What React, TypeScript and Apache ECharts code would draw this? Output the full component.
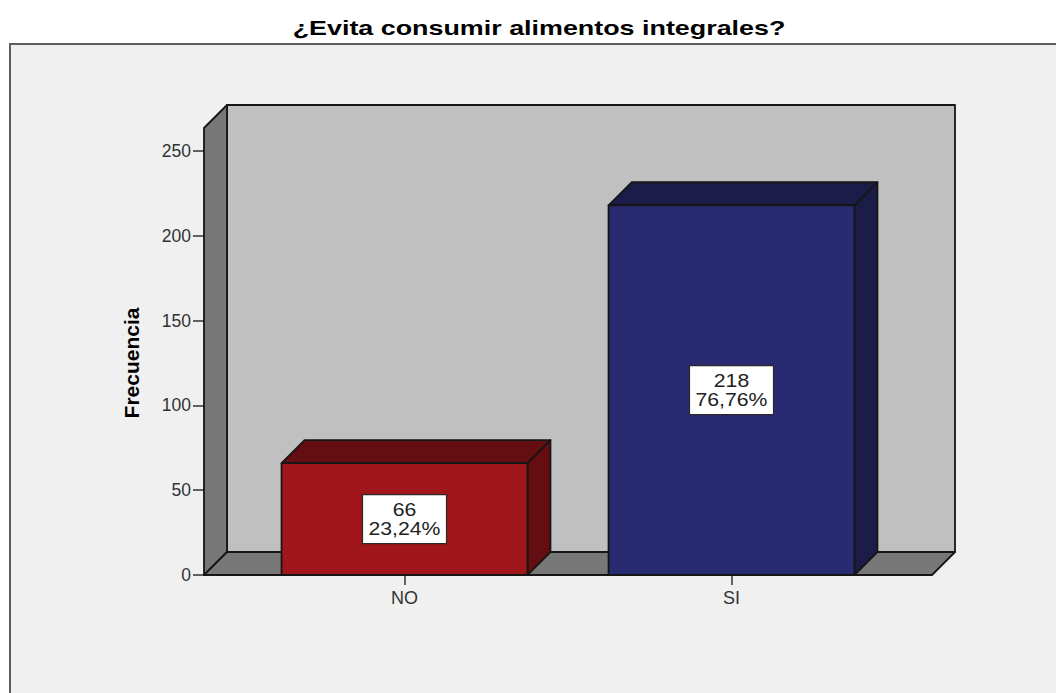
import React, { useEffect, useRef } from "react";
import * as echarts from "echarts";

const chartTitle = "¿Evita consumir alimentos integrales?";
const yAxisName = "Frecuencia";
const categories = ["NO", "SI"];
const frequencies = [66, 218];
const percentLabels = ["23,24%", "76,76%"];
const yMin = 0;
const yMax = 250;
const yInterval = 50;
const frontColors = ["#a0161a", "#282a72"];
const shadeColors = ["#650e11", "#1b1c48"];

const FONT = '"Liberation Sans", Arial, Helvetica, sans-serif';
const DEPTH = 23;
const SIDE_PAD = 37;
const EDGE = { stroke: "#161616", lineWidth: 1.8, lineJoin: "round" as const };

export default function App() {
  const ref = useRef<HTMLDivElement>(null);

  useEffect(() => {
    if (!ref.current) return;
    const chart = echarts.init(ref.current, null, { renderer: "svg" });

    const wallsRender = (params: any, api: any) => {
      const cs = params.coordSys;
      const d = DEPTH;
      const y0 = api.coord([0, 0])[1];
      const xL = cs.x - SIDE_PAD;
      const xR = cs.x + cs.width + SIDE_PAD;
      const yT = cs.y - d;
      return {
        type: "group",
        children: [
          {
            type: "polygon",
            shape: { points: [[xL + d, yT - d], [xR + d, yT - d], [xR + d, y0 - d], [xL + d, y0 - d]] },
            style: { fill: "#c0c0c0", ...EDGE },
          },
          {
            type: "polygon",
            shape: { points: [[xL, y0], [xL, yT], [xL + d, yT - d], [xL + d, y0 - d]] },
            style: { fill: "#787878", ...EDGE },
          },
          {
            type: "polygon",
            shape: { points: [[xL, y0], [xL + d, y0 - d], [xR + d, y0 - d], [xR, y0]] },
            style: { fill: "#787878", ...EDGE },
          },
        ],
      };
    };

    const barsRender = (params: any, api: any) => {
      const i = params.dataIndex;
      const cat = api.value(0);
      const val = api.value(1);
      const [cx, yv] = api.coord([cat, val]);
      const y0 = api.coord([cat, 0])[1];
      const band = api.size([1, 0])[0];
      const w = band * 0.752;
      const xl = cx - w / 2;
      const xr = cx + w / 2;
      const d = DEPTH;
      const midY = (yv + y0) / 2;
      const boxW = 84;
      const boxH = 49;
      return {
        type: "group",
        children: [
          {
            type: "polygon",
            shape: { points: [[xr, yv], [xr + d, yv - d], [xr + d, y0 - d], [xr, y0]] },
            style: { fill: shadeColors[i], ...EDGE },
          },
          {
            type: "polygon",
            shape: { points: [[xl, yv], [xl + d, yv - d], [xr + d, yv - d], [xr, yv]] },
            style: { fill: shadeColors[i], ...EDGE },
          },
          {
            type: "rect",
            shape: { x: xl, y: yv, width: w, height: y0 - yv },
            style: { fill: frontColors[i], ...EDGE },
          },
          {
            type: "rect",
            shape: { x: cx - boxW / 2, y: midY - boxH / 2, width: boxW, height: boxH },
            style: { fill: "#ffffff", stroke: "#2a2a2a", lineWidth: 1.2 },
          },
          {
            type: "text",
            x: cx,
            y: midY,
            scaleX: 1.18,
            style: {
              text: `${frequencies[i]}\n${percentLabels[i]}`,
              font: `18px ${FONT}`,
              fill: "#222222",
              align: "center",
              verticalAlign: "middle",
              lineHeight: 19,
            },
          },
        ],
      };
    };

    chart.setOption({
      animation: false,
      backgroundColor: "#ffffff",
      graphic: [
        {
          type: "rect",
          z: -10,
          silent: true,
          shape: { x: 10, y: 44, width: 1100, height: 700 },
          style: { fill: "#f0f0f0", stroke: "#5e5e5e", lineWidth: 2 },
        },
        {
          type: "text",
          x: 539,
          y: 28,
          scaleX: 1.28,
          style: {
            text: chartTitle,
            font: `bold 21px ${FONT}`,
            fill: "#000000",
            align: "center",
            verticalAlign: "middle",
          },
        },
      ],
      grid: { left: 241, right: 161, top: 151, bottom: 118 },
      xAxis: {
        type: "category",
        data: categories,
        axisLine: { show: false },
        axisTick: { show: true, alignWithLabel: true, length: 10, lineStyle: { color: "#333333", width: 1.5 } },
        axisLabel: { margin: 14, fontSize: 18, fontFamily: FONT, color: "#333333" },
        splitLine: { show: false },
      },
      yAxis: {
        type: "value",
        min: yMin,
        max: yMax,
        interval: yInterval,
        offset: SIDE_PAD,
        name: yAxisName,
        nameLocation: "middle",
        nameRotate: 90,
        nameGap: 62,
        nameTextStyle: { fontWeight: "bold", fontSize: 21, fontFamily: FONT, color: "#000000" },
        axisLine: { show: false },
        axisTick: { show: true, length: 11, lineStyle: { color: "#333333", width: 1.5 } },
        axisLabel: { margin: 13, fontSize: 17.5, fontFamily: FONT, color: "#333333" },
        splitLine: { show: false },
      },
      series: [
        {
          type: "custom",
          name: "walls",
          z: 1,
          silent: true,
          renderItem: wallsRender,
          data: [[0, 0]],
        },
        {
          type: "custom",
          name: yAxisName,
          z: 2,
          renderItem: barsRender,
          data: frequencies.map((v, i) => [i, v]),
        },
      ],
    });

    return () => chart.dispose();
  }, []);

  return (
    <div
      ref={ref}
      style={{ position: "fixed", left: 0, top: 0, width: 1056, height: 693 }}
    />
  );
}
